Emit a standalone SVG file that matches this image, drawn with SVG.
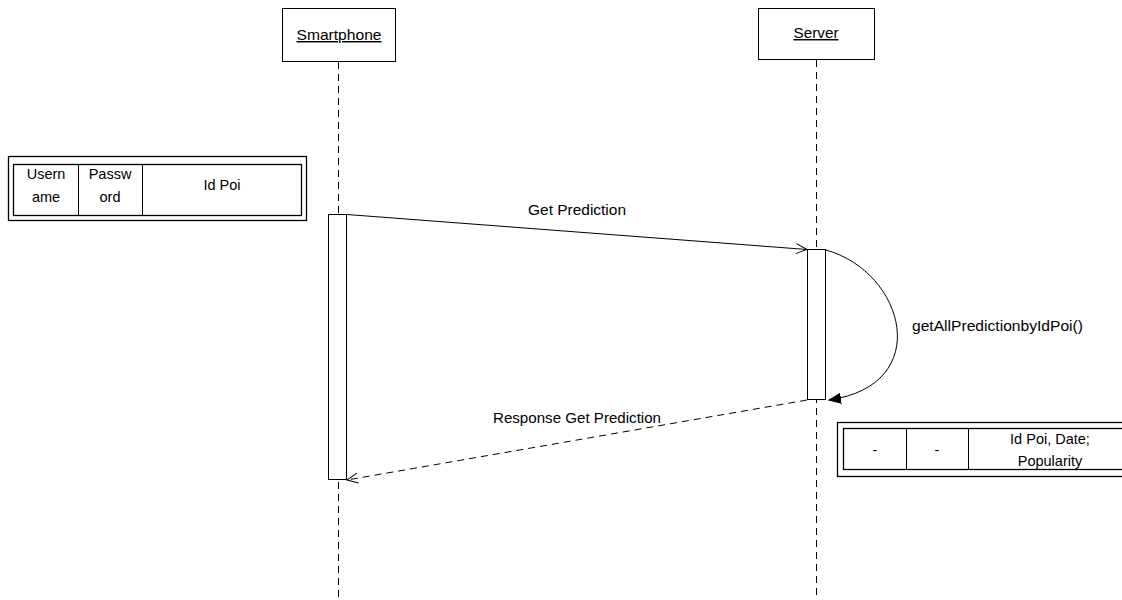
<svg xmlns="http://www.w3.org/2000/svg" width="1122" height="600" viewBox="0 0 1122 600">
<style>
text{font-family:"Liberation Sans","Open Sans",Arial,sans-serif;font-size:14.5px;fill:#000}
.c{text-anchor:middle}
.box{fill:#fff;stroke:#000;stroke-width:1}
.life{stroke:#000;stroke-width:1;stroke-dasharray:7 5;fill:none}
.act{fill:#fff;stroke:#000;stroke-width:1}
.msg{stroke:#000;stroke-width:1;fill:none}
.dash{stroke:#000;stroke-width:1;fill:none;stroke-dasharray:7 5}
.tbl{fill:#fff;stroke:#000;stroke-width:1.3}
</style>
<defs>
<marker id="open" markerWidth="14" markerHeight="14" refX="12" refY="6" orient="auto" markerUnits="userSpaceOnUse">
<path d="M1,1 L12,6 L1,11" fill="none" stroke="#000" stroke-width="1"/>
</marker>
<marker id="filled" markerWidth="14" markerHeight="14" refX="12" refY="6" orient="auto" markerUnits="userSpaceOnUse">
<path d="M0,1 L12,6 L0,11 Z" fill="#000" stroke="#000"/>
</marker>
</defs>
<rect width="1122" height="600" fill="#fff"/>

<g id="smartphone">
<line class="life" x1="338.5" y1="62" x2="338.5" y2="600"/>
<rect class="box" x="282.5" y="8.5" width="113" height="53"/>
<text class="c" x="339" y="40" text-decoration="underline" textLength="85" lengthAdjust="spacingAndGlyphs">Smartphone</text>
<rect class="act" x="328.5" y="214.5" width="18" height="265"/>
</g>

<g id="server">
<line class="life" x1="816.5" y1="60" x2="816.5" y2="600"/>
<rect class="box" x="758.5" y="8.5" width="116" height="51"/>
<text class="c" x="816" y="38" text-decoration="underline" textLength="45" lengthAdjust="spacingAndGlyphs">Server</text>
<rect class="act" x="807.5" y="249.5" width="18" height="150"/>
</g>

<g id="connectors">
<line class="msg" x1="347" y1="214.5" x2="807" y2="249.5" marker-end="url(#open)"/>
<text class="c" x="577" y="215" textLength="98" lengthAdjust="spacingAndGlyphs">Get Prediction</text>
<path class="msg" d="M826,250 C905,272 935,385 829,400" marker-end="url(#filled)"/>
<text x="912" y="331" textLength="171" lengthAdjust="spacingAndGlyphs">getAllPredictionbyIdPoi()</text>
<line class="dash" x1="807" y1="400" x2="347" y2="480" marker-end="url(#open)"/>
<text class="c" x="577" y="423" textLength="168" lengthAdjust="spacingAndGlyphs">Response Get Prediction</text>
</g>

<g id="request-table">
<rect class="tbl" x="8.5" y="156.5" width="298" height="64"/>
<rect class="tbl" x="13.5" y="164.5" width="288" height="51"/>
<line class="msg" x1="78.5" y1="164.5" x2="78.5" y2="215.5"/>
<line class="msg" x1="142.5" y1="164.5" x2="142.5" y2="215.5"/>
<text class="c" x="46" y="179">Usern</text>
<text class="c" x="46" y="202">ame</text>
<text class="c" x="110" y="179">Passw</text>
<text class="c" x="110" y="202">ord</text>
<text class="c" x="222" y="190">Id Poi</text>
</g>

<g id="response-table">
<rect class="tbl" x="837.5" y="422.5" width="300" height="54"/>
<rect class="tbl" x="843.5" y="428.5" width="290" height="41"/>
<line class="msg" x1="906.5" y1="428.5" x2="906.5" y2="469.5"/>
<line class="msg" x1="968.5" y1="428.5" x2="968.5" y2="469.5"/>
<text class="c" x="875" y="455">-</text>
<text class="c" x="937" y="455">-</text>
<text class="c" x="1050" y="444">Id Poi, Date;</text>
<text class="c" x="1050" y="466">Popularity</text>
</g>
</svg>
